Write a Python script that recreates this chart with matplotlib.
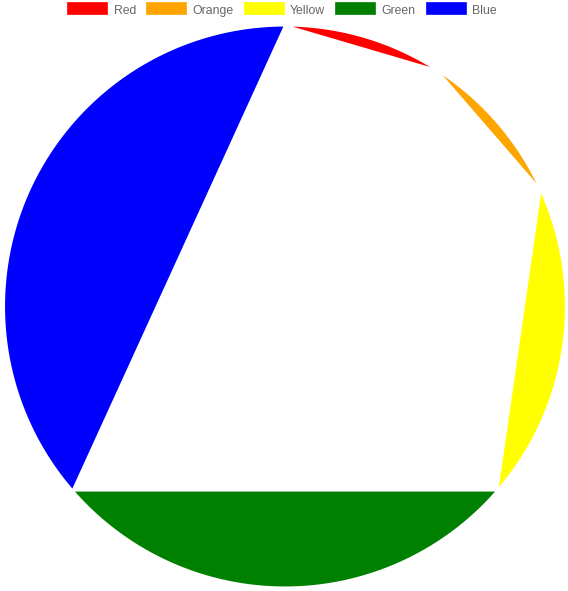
import numpy as np
import matplotlib
matplotlib.use("Agg")
import matplotlib.pyplot as plt
from matplotlib.patches import Polygon, Rectangle

labels = ["Red", "Orange", "Yellow", "Green", "Blue"]
values = [10, 10, 20, 30, 40]
colors = ["#ff0000", "#ffa500", "#ffff00", "#008000", "#0000ff"]

W, H = 568, 591
fig = plt.figure(figsize=(W / 100, H / 100), dpi=100)
fig.patch.set_facecolor("white")

cx, cy, r = 285.0, 306.5, 281.0
ax = fig.add_axes([(cx - r) / W, (H - cy - r) / H, 2 * r / W, 2 * r / H])
ax.set_xlim(-1, 1)
ax.set_ylim(-1, 1)
ax.set_aspect("equal")
ax.axis("off")

total = float(sum(values))
cum = 0.0
for v, c in zip(values, colors):
    a1 = 90 - cum / total * 360
    a2 = 90 - (cum + v) / total * 360
    t = np.radians(np.linspace(a1, a2, 200))
    pts = np.column_stack([np.cos(t), np.sin(t)])
    ax.add_patch(Polygon(pts, closed=True, facecolor=c, edgecolor="white",
                         linewidth=1.5, joinstyle="miter"))
    cum += v

# legend in pixel coordinates
lax = fig.add_axes([0, 0, 1, 1], facecolor="none")
lax.set_xlim(0, W)
lax.set_ylim(H, 0)
lax.axis("off")
fig.canvas.draw()
renderer = fig.canvas.get_renderer()
fs = 12.2 * 72 / 100
box_w, box_h, pad, gap = 40, 12, 10.0, 6.5
texts = []
widths = []
for lab in labels:
    tt = lax.text(0, 0, lab, fontsize=fs, family="Liberation Sans", color="#666666",
                  va="baseline", ha="left")
    bb = tt.get_window_extent(renderer)
    widths.append(bb.width)
    texts.append(tt)
item_w = [box_w + gap + w + pad for w in widths]
x = W / 2 - 2 - sum(item_w) / 2 + pad / 2
ytop = 2
for lab, c, tt, iw in zip(labels, colors, texts, item_w):
    lax.add_patch(Rectangle((x, ytop), box_w, box_h, facecolor=c, edgecolor=c, linewidth=0.5))
    tt.set_position((x + box_w + gap, 14))
    x += iw

fig.savefig("out.png", dpi=100, facecolor="white")
